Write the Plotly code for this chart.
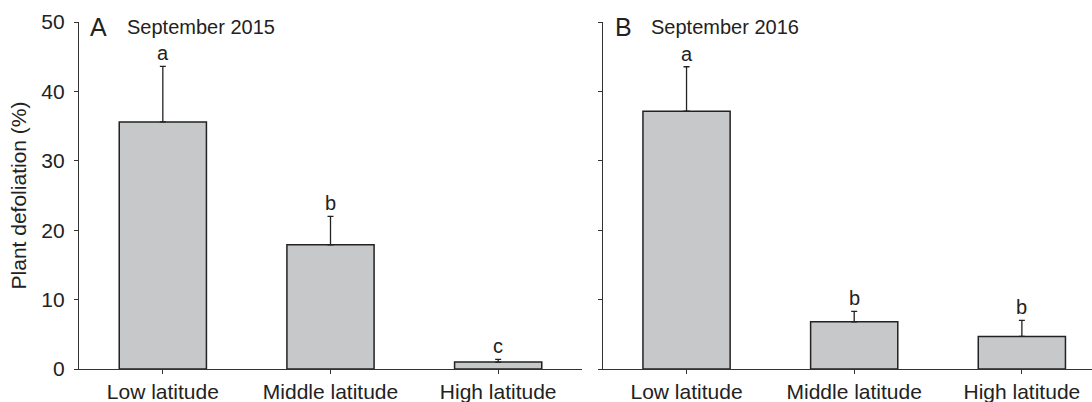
import plotly.graph_objects as go

categories = ["Low latitude", "Middle latitude", "High latitude"]
defol_2015 = [35.6, 17.9, 1.0]
se_2015 = [8.0, 4.1, 0.4]
letters_2015 = ["a", "b", "c"]
defol_2016 = [37.15, 6.8, 4.7]
se_2016 = [6.4, 1.5, 2.3]
letters_2016 = ["a", "b", "b"]
y_ticks = [0, 10, 20, 30, 40, 50]

FONT = "Liberation Sans, Arial, sans-serif"
W, H = 1092, 402
ml, mr, mt, mb = 79, 0, 22, 32.5
pw = W - ml - mr

fig = go.Figure()
xs = [0, 1, 2]
for vals, errs, xa, ya in [(defol_2015, se_2015, "x", "y"), (defol_2016, se_2016, "x2", "y2")]:
    fig.add_trace(go.Bar(
        x=xs, y=vals, xaxis=xa, yaxis=ya, width=0.52,
        marker=dict(color="#c7c8ca", line=dict(color="#222222", width=1.5)),
        error_y=dict(type="data", array=errs, arrayminus=[0]*len(errs), symmetric=False,
                     color="#222222", thickness=1.3, width=3),
        showlegend=False,
    ))

for vals, errs, letters, xa, ya in [(defol_2015, se_2015, letters_2015, "x", "y"),
                                    (defol_2016, se_2016, letters_2016, "x2", "y2")]:
    for i, (v, e, l) in enumerate(zip(vals, errs, letters)):
        fig.add_annotation(x=xs[i], y=v + e, xref=xa, yref=ya, text=l, showarrow=False,
                           yanchor="bottom", yshift=0, font=dict(size=20, color="#222", family=FONT))

dA = [0, 503 / pw]
dB = [(602.7 - ml) / pw, 1]
xrB = (W - 602.7) / (503 / 3) - 0.5

axis_common = dict(showline=True, linecolor="#333333", linewidth=1.3, ticks="outside",
                   ticklen=4, tickcolor="#333333", tickwidth=1.3, showgrid=False, zeroline=False,
                   tickfont=dict(size=21, color="#222", family=FONT))

fig.update_layout(
    width=W, height=H, margin=dict(l=ml, r=mr, t=mt, b=mb),
    plot_bgcolor="white", paper_bgcolor="white",
    xaxis=dict(domain=dA, range=[-0.5, 2.5], tickvals=xs, ticktext=categories, anchor="y", **axis_common),
    xaxis2=dict(domain=dB, range=[-0.5, xrB], tickvals=xs, ticktext=categories, anchor="y2", **axis_common),
    yaxis=dict(domain=[0, 1], range=[0, 50], tickvals=y_ticks, anchor="x",
               title=dict(text="Plant defoliation (%)", font=dict(size=21, color="#222", family=FONT), standoff=8),
               ticklabelstandoff=5, **axis_common),
    yaxis2=dict(domain=[0, 1], range=[0, 50], tickvals=y_ticks, showticklabels=False, anchor="x2", **axis_common),
)

# panel titles
for lab, ttl, xl, xt in [("A", "September 2015", 88, 125), ("B", "September 2016", 613, 649)]:
    yy = (H - mb - 27) / (H - mt - mb)
    fig.add_annotation(xref="paper", yref="paper", x=(xl - ml) / pw, y=yy,
                       text=lab, showarrow=False, xanchor="left", yanchor="middle",
                       font=dict(size=25, color="#222", family=FONT))
    fig.add_annotation(xref="paper", yref="paper", x=(xt - ml) / pw, y=yy,
                       text=ttl, showarrow=False, xanchor="left", yanchor="middle",
                       font=dict(size=20, color="#222", family=FONT))

fig.write_html("out.html")
